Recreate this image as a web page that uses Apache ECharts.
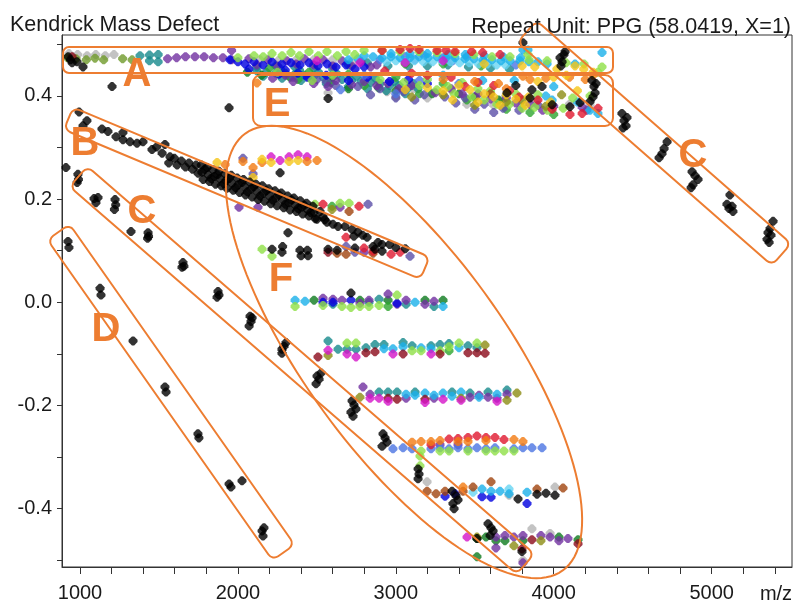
<!DOCTYPE html>
<html><head><meta charset="utf-8">
<script src="https://cdn.jsdelivr.net/npm/echarts@6/dist/echarts.min.js"></script>
<style>html,body{margin:0;padding:0;background:#fff}#c{width:795px;height:603px}</style>
</head><body><div id="c"></div>
<script>
// ---------- axis ticks ----------
const xTickValues = [1000,1200,1400,1600,1800,2000,2200,2400,2600,2800,3000,3200,3400,3600,3800,4000,4200,4400,4600,4800,5000,5200,5400];
const xTickLabels = [1000,2000,3000,4000,5000];
const yTickValues = [-0.5,-0.4,-0.3,-0.2,-0.1,0,0.1,0.2,0.3,0.4,0.5];
const yTickLabels = [-0.4,-0.2,0,0.2,0.4];

// ---------- data: [m/z, Kendrick mass defect] ----------
const blackPts = [
 [925,0.476],[950,0.464],[981,0.466],[1019,0.456],[940,0.470],[1203,0.418],[1944,0.377],[2571,0.395],
 [994,0.369],[1019,0.342],[1044,0.352],[1139,0.336],[1177,0.331],[1228,0.321],[1272,0.329],[1272,0.315],[1317,0.311],[1361,0.308],[1399,0.311],[1456,0.296],[1485,0.301],[1538,0.306],[1520,0.289],[1570,0.282],[1562,0.270],[1598,0.279],[1615,0.266],[1642,0.274],[1668,0.262],[1690,0.270],[1712,0.258],[1735,0.266],[1748,0.250],
 [1768,0.266],[1772,0.252],[1780,0.238],[1805,0.261],[1812,0.247],[1820,0.234],[1842,0.257],[1850,0.244],[1858,0.229],[1880,0.254],[1886,0.240],[1894,0.226],[1918,0.249],[1925,0.236],[1930,0.221],[1958,0.246],[1962,0.231],[1970,0.217],[1995,0.241],[2002,0.228],[2010,0.213],[2035,0.238],[2042,0.224],[2048,0.208],[2075,0.233],[2082,0.219],[2090,0.204],[2115,0.229],[2120,0.215],[2128,0.199],[2155,0.226],[2160,0.211],[2168,0.196],[2195,0.220],[2200,0.206],[2208,0.191],[2235,0.216],[2240,0.202],[2248,0.187],[2275,0.212],[2282,0.198],[2290,0.183],[2315,0.206],[2322,0.193],[2330,0.179],[2355,0.202],[2362,0.189],[2370,0.176],[2395,0.197],[2402,0.184],[2410,0.171],[2435,0.192],[2442,0.179],[2450,0.167],[2475,0.186],[2482,0.174],[2490,0.162],
 [1790,0.258],[1830,0.240],[1870,0.247],[1910,0.230],[1945,0.240],[1985,0.222],[2025,0.232],[2060,0.214],[2100,0.224],[2140,0.206],[2180,0.216],[2220,0.198],[2260,0.208],[2300,0.190],[2340,0.198],[2380,0.182],[2420,0.188],[2460,0.174],[2520,0.176],[2550,0.160],
 [2501,0.161],[2539,0.166],[2564,0.155],[2602,0.151],[2634,0.147],[2678,0.147],[2723,0.141],[2735,0.128],[2818,0.126],[2856,0.108],[2868,0.103],[2887,0.116],[2913,0.112],[2760,0.136],[2790,0.130],[2960,0.112],[3000,0.106],[3060,0.104],
 [911,0.261],[987,0.248],[990,0.238],[982,0.232],[1089,0.201],[1114,0.203],[1101,0.193],[1222,0.199],[1226,0.189],[1218,0.180],[1323,0.137],[1431,0.135],[1428,0.124],[1434,0.128],[1652,0.077],[1658,0.070],[1646,0.068],[1874,0.021],[1880,0.014],[1868,0.010],[2077,-0.027],[2083,-0.037],[2071,-0.046],[2090,-0.030],[2279,-0.091],[2292,-0.085],[2305,-0.078],[2279,-0.099],[2501,-0.143],[2514,-0.149],[2527,-0.137],[2495,-0.158],[2723,-0.191],[2735,-0.199],[2748,-0.207],[2716,-0.213],[2729,-0.221],[2919,-0.255],[2932,-0.263],[2944,-0.271],[2913,-0.279],[3141,-0.323],[3147,-0.333],[3141,-0.342],[3356,-0.366],[3381,-0.375],[3394,-0.383],[3362,-0.390],[3369,-0.400],[3584,-0.429],[3603,-0.437],[3616,-0.443],[3597,-0.452],
 [924,0.118],[930,0.106],[1127,0.027],[1133,0.014],[1336,-0.075],[1538,-0.164],[1545,-0.174],[1747,-0.255],[1753,-0.263],[1944,-0.352],[1956,-0.358],[2026,-0.346],[2153,-0.443],[2159,-0.453],[2165,-0.437],
 [3805,0.503],[4040,0.474],[4053,0.466],[4065,0.480],[4046,0.458],[4072,0.486],[4242,0.430],[4255,0.418],[4262,0.406],[4249,0.398],[4268,0.424],[4432,0.366],[4445,0.352],[4458,0.342],[4439,0.338],[4464,0.358],[4718,0.311],[4699,0.298],[4686,0.288],[4667,0.280],[4876,0.253],[4895,0.245],[4914,0.238],[4882,0.228],[4870,0.222],[5116,0.208],[5097,0.190],[5110,0.182],[5129,0.186],[5135,0.176],[5389,0.157],[5370,0.143],[5357,0.135],[5351,0.122],[5364,0.116],[5376,0.130],
 [3704,0.406],[3862,0.412],[3926,0.418],[3990,0.383],[4103,0.379],[4167,0.387],[4230,0.389],[3760,0.420],[3850,0.396],
 [2216,0.103],[2279,0.097],[2283,0.108],[2393,0.101],[2400,0.090],[2440,0.101],[2444,0.090],[2571,0.103],[2628,0.101],[2741,0.105],[2913,0.099],[2267,0.251],[2317,0.135],[2716,0.018],[3774,-0.381],[3894,-0.372],[3951,-0.370],[4008,-0.374],[3514,-0.458],[3799,-0.483]
];
const purplePts = [
 [1555,0.472],[1612,0.474],[1668,0.476],[1728,0.476],[1786,0.476],[1845,0.474],[1905,0.474],[1960,0.488],[1960,0.470],[2070,0.472],[2190,0.470],[2310,0.468],[2420,0.472],[2540,0.470],[2660,0.468],[2780,0.466],[2880,0.460],
 [2120,0.460],[2250,0.458],[2370,0.462],[2480,0.460],[2600,0.458],[2720,0.458],[2840,0.456],
 [2220,0.434],[2350,0.428],[2480,0.424],[2571,0.418],[2720,0.422],[2880,0.420],[3020,0.414],[3250,0.406],[3420,0.404],[3600,0.394],[3760,0.386],[3930,0.372],
 [2300,0.440],[2450,0.436],[2620,0.430],[2800,0.428],[2950,0.424],[3100,0.420],[3350,0.414],[3520,0.404],[3700,0.396],[3850,0.384],[4000,0.380],[4180,0.378],
 [2007,0.184],[2127,0.184],[2647,0.184],[2799,0.097],
 [2539,0.008],[2602,0.006],[2659,0.004],[2773,-0.002],[2830,0.004],[2951,0.016],[3008,-0.004],[3065,0.004],[3185,-0.004],[3242,0.002],
 [2792,-0.164],[2837,-0.178],[3065,-0.186],[3242,-0.186],[3470,-0.184],[3527,-0.180],[3584,-0.184],[3641,-0.186],[3704,-0.178],
 [3280,-0.276],[3394,-0.276],
 [3634,-0.455],[3634,-0.476],[3691,-0.452],[3748,-0.455],[3805,-0.452],[3919,-0.452],[3977,-0.455],[4033,-0.462],[4090,-0.458],[3805,-0.505]
];
const slatePts = [
 [2500,0.432],[2620,0.420],[2760,0.418],[2900,0.414],[3050,0.408],[3180,0.402],[3310,0.398],[3440,0.396],[3560,0.384],[3620,0.368],[3680,0.376],[3780,0.372],
 [2350,0.436],[2560,0.428],[2840,0.402],[3000,0.396],[3120,0.392],[3380,0.386],[3500,0.374],[3900,0.382],[4210,0.372],
 [2032,0.279],[2096,0.249],[2824,0.190],[2685,0.108],[2741,0.097],[3090,0.089]
];
const bluePts = [
 [1950,0.470],[2000,0.466],[2045,0.462],[2102,0.466],[2159,0.460],[2216,0.466],[2279,0.462],[2336,0.464],[2393,0.460],[2450,0.464],[2507,0.458],[2564,0.462],[2621,0.456],[2685,0.460],[2742,0.452],[2799,0.456],[2070,0.452],[2300,0.450],
 [2440,0.436],[2700,0.430],[2960,0.428],[3200,0.424],[2260,0.442],[2380,0.444],[2560,0.440],[2820,0.436],[3080,0.432],
 [2539,0.000],[2602,0.000],[2716,0.004],[3008,-0.002],
 [3312,-0.376],[3375,-0.371],[3546,-0.377],[3831,-0.390],[3603,-0.378]
];
const royalBluePts = [
 [2982,-0.284],[3046,-0.282],[3103,-0.284],[3223,-0.284],[3280,-0.282],[3337,-0.284],[3394,-0.282],[3457,-0.284],[3514,-0.282],[3571,-0.284],[3628,-0.282],[3748,-0.284],[3805,-0.282],[3862,-0.282],[3926,-0.282],
 [3060,0.476],[3180,0.478],[3300,0.474],[3450,0.476],[2650,0.412],[3000,0.404],
 [2900,0.470],[3120,0.470],[3360,0.468],[3560,0.466],[3760,0.460],[2800,0.440],[3150,0.430],[3400,0.424]
];
const cyanPts = [
 [2856,0.476],[2913,0.474],[2970,0.476],[3027,0.474],[3090,0.474],[3147,0.476],[3204,0.474],[3261,0.476],[3318,0.474],[3375,0.474],[3438,0.472],[3495,0.472],[3552,0.470],[3609,0.470],[3666,0.468],[3723,0.468],[3787,0.468],[3844,0.466],[3900,0.466],[3958,0.462],[4135,0.462],[4306,0.484],[3805,0.489],[3837,0.489],
 [2700,0.470],[2760,0.472],[2800,0.478],[2970,0.482],[3090,0.482],[3200,0.482],[3330,0.480],[3440,0.480],[3560,0.478],[3680,0.476],[3790,0.474],
 [3990,0.392],[4150,0.388],[4280,0.366],[4000,0.418],[3300,0.440],[3550,0.430],[3750,0.430],[3950,0.400],[4230,0.372],
 [2362,0.004],[2425,0.002],[3122,0.000],[3299,-0.008],
 [3065,-0.178],[3122,-0.180],[3185,-0.176],[3242,-0.180],[3299,-0.176],[3356,-0.182],[3413,-0.174],[3527,-0.184],[3641,-0.178],
 [3546,-0.362],[3603,-0.366],[3660,-0.366],[3717,-0.371],[3831,-0.368],
 [2925,-0.090],[2982,-0.090],[3046,-0.086],[3160,-0.088],[3223,-0.090],[3400,-0.088]
];
const lightCyanPts = [
 [2942,0.466],[3000,0.468],[3060,0.466],[3118,0.468],[3175,0.466],[3233,0.466],[3290,0.468],[3346,0.466],[3404,0.464],[3466,0.464],[3524,0.462],[3580,0.462],[3638,0.460],[3695,0.460],
 [3489,-0.368],[3717,-0.362]
];
const lightGreenPts = [
 [2102,0.478],[2216,0.482],[2336,0.484],[2450,0.486],[2564,0.486],[2685,0.486],[2799,0.488],[2913,0.488],[3027,0.486],[3147,0.486],[3261,0.484],[3375,0.482],[3495,0.480],[3609,0.476],[3723,0.476],[3844,0.470],[3958,0.468],[4078,0.464],[4192,0.462],[4306,0.456],[3837,0.480],
 [2000,0.474],[2160,0.476],[2280,0.478],[2390,0.478],[2510,0.478],[2630,0.478],[2740,0.480],
 [3150,0.420],[3260,0.412],[3370,0.404],[3480,0.398],[3560,0.392],[3640,0.384],[3720,0.384],[3800,0.376],[3880,0.378],[3960,0.372],[4060,0.376],[4280,0.446],[3520,0.414],[3330,0.418],[2470,0.430],
 [2250,0.446],[2600,0.440],[2900,0.432],[3050,0.426],[3200,0.432],[3420,0.426],[3600,0.410],[3760,0.404],[3900,0.402],[4120,0.396],[4230,0.400],
 [2488,0.190],[2647,0.192],[2704,0.192],[2153,0.103],[2216,0.089],
 [2362,-0.008],[2539,-0.006],[2659,-0.008],[2716,-0.010],[2773,-0.008],[2830,-0.008],[2894,-0.006],[3008,0.014],
 [2691,-0.079],[2748,-0.079],[3103,-0.094],[3160,-0.094],[3280,-0.094],[3337,-0.086],[3400,-0.079],[3514,-0.079],
 [3160,-0.288],[3280,-0.288],[3337,-0.288],[3457,-0.288],[3571,-0.288],[3628,-0.288],[3685,-0.288],[3748,-0.288],[3153,-0.298],[3153,-0.317]
];
const greenPts = [
 [2200,0.454],[2450,0.446],[2700,0.442],[3000,0.436],[3300,0.424],
 [2380,0.432],[2800,0.420],[3150,0.404],[3450,0.392],[3700,0.374],[3850,0.368],[4000,0.364],
 [3060,0.462],[3300,0.462],[3540,0.458],
 [2596,0.186],[2951,-0.008],[3337,-0.094]
];
const oliveGreenPts = [
 [920,0.474],[975,0.472],[1040,0.470],[1095,0.473],[1150,0.470],[1270,0.472],[1330,0.470]
];
const darkGreenPts = [
 [2060,0.446],[2150,0.440],[2330,0.436],[2590,0.426],[2890,0.416],[3230,0.404],[3500,0.398],
 [2700,0.414],[3000,0.410],[3400,0.404],[3650,0.392],
 [2482,0.004],[2773,0.004],[2951,0.004],[3185,0.004],[3299,0.004],
 [3514,-0.458],[3571,-0.455],[3634,-0.462],[3691,-0.462],[3805,-0.462],[4033,-0.455],[4154,-0.460],[3514,-0.493]
];
const tealPts = [
 [1380,0.478],[1440,0.479],[1495,0.480],[1440,0.468],[1495,0.466],
 [2120,0.456],[2240,0.458],[2360,0.456],[2480,0.454],[2600,0.452],
 [2700,0.460],[2820,0.464],[2950,0.458],[3080,0.458],[3200,0.458],[3330,0.460],[3460,0.456],[3600,0.454],[3720,0.452],
 [2121,0.448],[2180,0.446],[2240,0.444],[2300,0.444],[2360,0.442],[2420,0.440],[2480,0.438],[2540,0.436],[2600,0.436],[2660,0.432],[2720,0.430],[2780,0.428],[2840,0.426],[2900,0.424],[2960,0.420],[3020,0.420],[3080,0.416],[3140,0.414],[2270,0.452],[2390,0.450],[2510,0.446],[2630,0.442],[2750,0.438],[2870,0.434],[2990,0.428],[3110,0.424],
 [2160,0.438],[2280,0.434],[2400,0.430],[2560,0.424],[2700,0.418],[2820,0.414],[2940,0.410],[3060,0.404],
 [2602,-0.004],[2830,0.000],[2894,0.006],[3065,-0.004],[3242,-0.008],
 [2571,-0.075],[2634,-0.091],[2691,-0.091],[2748,-0.091],[2811,-0.088],[2868,-0.082],[2925,-0.082],[3046,-0.078],[3103,-0.084],[3223,-0.084],[3280,-0.082],[3337,-0.080],[3457,-0.084],[3514,-0.088],
 [2894,-0.174],[2951,-0.174],[3008,-0.174],[3122,-0.174],[3356,-0.174],[3470,-0.176],[3584,-0.174],[3704,-0.170]
];
const magentaPts = [
 [2773,0.464],[3059,0.464],[2500,0.468],[3300,0.468],
 [2210,0.282],[2267,0.275],[2324,0.282],[2381,0.286],[2438,0.282],
 [2571,-0.093],[2748,-0.106],[2982,-0.100],[3223,-0.100],[2691,-0.100],
 [2837,-0.186],[2894,-0.186],[2951,-0.192],[3185,-0.194],[3299,-0.188],[3413,-0.190],[3641,-0.192],
 [3451,-0.455]
];
const orangePts = [
 [2032,0.273],[2153,0.271],[2438,0.273],[2501,0.275],[2096,0.261],[1919,0.267],
 [2121,0.425],[3500,0.428],[3650,0.424],[3805,0.438],[3950,0.434],[4100,0.436],[4200,0.432],[3300,0.432],[3700,0.414],[3850,0.432],[4250,0.440],
 [3103,-0.271],[3160,-0.270],[3223,-0.270],[3280,-0.268],[3394,-0.270],[3457,-0.270],[3571,-0.268],[3748,-0.266],[3805,-0.270],
 [3426,-0.358]
];
const yellowPts = [
 [2153,0.277],[2210,0.271],[2324,0.273],[2381,0.275],[2096,0.242],[1868,0.271],
 [3200,0.416],[3300,0.410],[3400,0.420],[3470,0.412],[3560,0.404],[3620,0.398],[3700,0.402],[3760,0.394],[3840,0.398],[3900,0.428],[4000,0.436],[4080,0.440],[4190,0.452],[4250,0.446],
 [3060,0.412],[3360,0.392],[3520,0.388],[3660,0.382],[3820,0.382],[3980,0.388],[4150,0.410],
 [4135,0.458],[4020,0.452],[3560,0.462],[3800,0.458],[3880,0.456]
];
const redPts = [
 [2913,0.488],[3027,0.490],[3090,0.492],[3147,0.490],[3261,0.488],[3318,0.488],[3375,0.486],[3480,0.486],[3550,0.484],[3660,0.480],
 [2930,0.448],[3100,0.444],[3350,0.436],[3620,0.420],[3780,0.398],[4103,0.364],[4280,0.376],[3990,0.374],[3440,0.418],
 [3200,0.440],[3520,0.426],[3720,0.410],[3900,0.392],[4180,0.366],
 [2539,0.190],[2767,0.186],
 [2685,0.126],[2799,0.105],[2856,0.099],[2970,0.093],[3027,0.097],
 [3223,-0.276],[3337,-0.265],[3394,-0.264],[3457,-0.262],[3514,-0.259],[3571,-0.262],[3628,-0.262],[3685,-0.266]
];
const darkRedPts = [
 [950,0.476],[2571,0.097],
 [2507,-0.106],[2811,-0.098],[2868,-0.096],[3046,-0.100],[3280,-0.100],[3457,-0.098],[3514,-0.098],[3565,-0.099],
 [2951,-0.186],[3008,-0.188],[3185,-0.188],
 [3862,-0.460],[4154,-0.468],[3799,-0.478]
];
const brownPts = [
 [3600,0.404],
 [2704,0.176],[2628,0.095],[2685,0.093],[2856,0.095],
 [3198,-0.366],[3255,-0.371],[3312,-0.366],[3426,-0.366],[3489,-0.358],[3603,-0.348],[3894,-0.362],[4059,-0.360]
];
const olivePts = [
 [3300,0.402],[3700,0.388],[4050,0.402],[3100,0.398],[3500,0.382],[3800,0.392],[3950,0.380],
 [2596,0.180],[2571,-0.103],[3565,-0.083],
 [2773,-0.184],[3413,-0.186],[3704,-0.190],[3767,-0.176],
 [3514,-0.455],[3748,-0.472],[3919,-0.462]
];
const grayPts = [
 [930,0.482],[985,0.480],[1045,0.478],[1100,0.480],[1160,0.478],[1215,0.480],
 [2140,0.470],[2255,0.468],[2370,0.470],[2600,0.470],[2480,0.470],[2720,0.466],
 [2571,0.406],[2944,0.408],[3110,0.414],[3350,0.412],[3520,0.400],[3680,0.394],[3890,0.390],[4230,0.383],
 [3000,0.398],[3200,0.396],[3450,0.384],[3620,0.382],[3800,0.384],[4100,0.384],
 [3198,-0.348],[3717,-0.374],[4008,-0.358],
 [3862,-0.439],[3977,-0.448],[3805,-0.500]
];

// ---------- series config (colors) ----------
const groups = [
 ['gray', '#b4b4b4', grayPts],
 ['oliveGreen', '#6f9a2a', oliveGreenPts],
 ['teal', '#168a8c', tealPts],
 ['darkGreen', '#0e7a1e', darkGreenPts],
 ['green', '#2ea52e', greenPts],
 ['slate', '#5b4fa8', slatePts],
 ['purple', '#7030a0', purplePts],
 ['blue', '#0000e0', bluePts],
 ['royalBlue', '#4b74e2', royalBluePts],
 ['lightCyan', '#66d4f2', lightCyanPts],
 ['cyan', '#1ab0ea', cyanPts],
 ['lightGreen', '#8ee046', lightGreenPts],
 ['olive', '#8c8c14', olivePts],
 ['brown', '#a0440e', brownPts],
 ['darkRed', '#8b0a1a', darkRedPts],
 ['red', '#e0182e', redPts],
 ['magenta', '#d414c8', magentaPts],
 ['orange', '#f27a12', orangePts],
 ['yellow', '#f5c518', yellowPts],
 ['black', '#000000', blackPts]
];

const MARKER = 'path://M3,0 H5 L8,3 V5 L5,8 H3 L0,5 V3 Z';
const ORANGE = '#ED7D31';
function band(x1, y1, x2, y2, w) {
  const L = Math.hypot(x2 - x1, y2 - y1);
  return { type: 'rect', silent: true, z: 100,
    x: (x1 + x2) / 2, y: (y1 + y2) / 2, rotation: -Math.atan2(y2 - y1, x2 - x1),
    shape: { x: -L / 2, y: -w / 2, width: L, height: w, r: 7 },
    style: { fill: 'none', stroke: ORANGE, lineWidth: 2 } };
}
function ellipse(cx, cy, a, b, deg) {
  const th = deg * Math.PI / 180, pts = [];
  for (let i = 0; i < 144; i++) {
    const t = i / 144 * 2 * Math.PI;
    pts.push([cx + a * Math.cos(t) * Math.cos(th) - b * Math.sin(t) * Math.sin(th),
              cy + a * Math.cos(t) * Math.sin(th) + b * Math.sin(t) * Math.cos(th)]);
  }
  return { type: 'polygon', silent: true, z: 100, shape: { points: pts },
    style: { fill: 'none', stroke: ORANGE, lineWidth: 2 } };
}
function letter(t, x, y) {
  return { type: 'text', silent: true, z: 101, x: x, y: y,
    style: { text: t, fill: ORANGE, font: 'bold 40px "Liberation Sans", Arial, sans-serif', textAlign: 'center', textVerticalAlign: 'middle' } };
}
function label(t, x, y, align, size) {
  return { type: 'text', silent: true, z: 102, x: x, y: y,
    style: { text: t, fill: '#1a1a1a', font: size + 'px "Liberation Sans", Arial, sans-serif', textAlign: align, textVerticalAlign: 'middle' } };
}

const chart = echarts.init(document.getElementById('c'), null, { renderer: 'canvas' });
chart.setOption({
  animation: false,
  backgroundColor: '#ffffff',
  grid: { left: 62, right: 3, top: 35, bottom: 35, show: true, borderColor: '#333', borderWidth: 1, containLabel: false },
  xAxis: {
    type: 'value', min: 886, max: 5509,
    axisLine: { show: true, onZero: false, lineStyle: { color: '#333', width: 1 } },
    axisTick: { show: true, length: 7, lineStyle: { color: '#333' }, customValues: xTickValues },
    axisLabel: { customValues: xTickLabels, color: '#1a1a1a', fontSize: 20, fontFamily: 'Liberation Sans', margin: 16,
      formatter: v => String(Math.round(v)) },
    splitLine: { show: false }
  },
  yAxis: {
    type: 'value', min: -0.513, max: 0.518,
    axisLine: { show: true, onZero: false, lineStyle: { color: '#333', width: 1 } },
    axisTick: { show: true, length: 5, lineStyle: { color: '#333' }, customValues: yTickValues },
    axisLabel: { customValues: yTickLabels, color: '#1a1a1a', fontSize: 20, fontFamily: 'Liberation Sans', margin: 10,
      formatter: v => Number(v).toFixed(1) },
    splitLine: { show: false }
  },
  series: groups.map(g => ({
    name: g[0], type: 'scatter', symbol: MARKER, symbolSize: 9,
    itemStyle: { color: g[1] }, data: g[2], silent: true
  })),
  graphic: { elements: [
    label('Kendrick Mass Defect', 10, 25, 'left', 21.5),
    label('Repeat Unit: PPG (58.0419, X=1)', 791, 27, 'right', 21.5),
    label('m/z', 776, 594, 'center', 20),
    { type: 'rect', silent: true, z: 100, shape: { x: 63, y: 47, width: 550, height: 26, r: 6 }, style: { fill: 'none', stroke: ORANGE, lineWidth: 2 } },
    { type: 'rect', silent: true, z: 100, shape: { x: 253, y: 75, width: 360, height: 51, r: 8 }, style: { fill: 'none', stroke: ORANGE, lineWidth: 2 } },
    band(68.5, 118.5, 425, 268, 24),
    band(78.5, 176.5, 525.5, 564, 27),
    band(527, 31.5, 781.5, 254.5, 29),
    band(58.5, 232, 283.5, 552.5, 27),
    ellipse(404, 352, 270, 100, 54),
    letter('A', 137, 75), letter('B', 85, 144), letter('C', 142, 212),
    letter('C', 693, 156), letter('D', 106, 330), letter('E', 277, 105), letter('F', 281, 280)
  ] }
});
</script>
</body></html>
